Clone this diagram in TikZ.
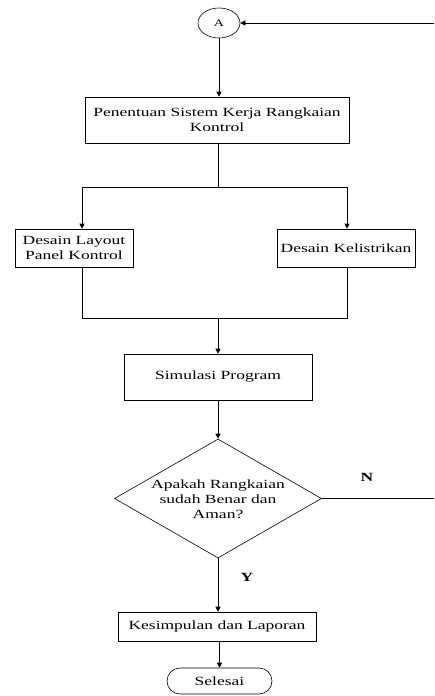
\documentclass[tikz,border=0pt]{standalone}
\usepackage{fontspec}
\setmainfont{Liberation Serif}[FakeStretch=1.4]
\usetikzlibrary{arrows.meta,shapes.geometric,calc}
\begin{document}
\begin{tikzpicture}[x=1pt,y=-1pt, line width=0.6pt,
  txt/.style={font=\fontsize{12.5}{15}\selectfont, align=center},
  box/.style={draw, rectangle, inner sep=0pt, txt},
  arr/.style={-{Triangle[length=5pt,width=5pt]}},
  lbl/.style={font=\fontsize{12.5}{15}\selectfont\bfseries}]
\useasboundingbox (0,0) rectangle (434,696);
% nodes
\node[draw, ellipse, minimum width=42pt, minimum height=30pt, inner sep=0pt,
      font=\fontsize{10}{12}\selectfont] (A) at (219,23) {A};
\node[box, minimum width=264pt, minimum height=46pt] (b1) at (217,120)
  {Penentuan Sistem Kerja Rangkaian\\Kontrol};
\node[box, minimum width=118pt, minimum height=38pt] (lb) at (74,248)
  {Desain Layout\\Panel Kontrol};
\node[box, minimum width=138pt, minimum height=38pt] (rb) at (346,248)
  {Desain Kelistrikan};
\node[box, minimum width=188pt, minimum height=46pt] (sim) at (218,377)
  {Simulasi Program};
\node[draw, diamond, minimum width=207pt, minimum height=119pt, inner sep=0pt] (dec) at (218,498.5) {};
\node[txt] (dect) at (218,499) {Apakah Rangkaian\\sudah Benar dan\\Aman?};
\node[box, minimum width=198pt, minimum height=29pt] (kes) at (217,626.5)
  {Kesimpulan dan Laporan};
\node[draw, rectangle, rounded corners=13pt, minimum width=105pt, minimum height=26pt,
      inner sep=0pt, txt] (sel) at (219.5,681) {Selesai};
\node[lbl] (N) at (367,477) {N};
\node[lbl] (Y) at (247,577) {Y};
% coordinates
\coordinate (aend) at (434,23);
\coordinate (nend) at (434,498.5);
\coordinate (j1) at (218,187);
\coordinate (jl) at (82,187);
\coordinate (jr) at (347,187);
\coordinate (m) at (218,318);
\coordinate (ml) at (82,318);
\coordinate (mr) at (347,318);
% connectors
\draw[arr] (aend) -- (A.east);
\draw[arr] (A.south) -- (A.south |- b1.north);
\draw (b1.south -| j1) -- (j1);
\draw[arr] (j1) -- (jl) -- (jl |- lb.north);
\draw[arr] (j1) -- (jr) -- (jr |- rb.north);
\draw (lb.south -| ml) -- (ml) -- (mr) -- (mr |- rb.south);
\draw[arr] (m) -- (sim.north -| m);
\draw[arr] (sim.south) -- (dec.north);
\draw (dec.east) -- (nend);
\draw[arr] (dec.south) -- (dec.south |- kes.north);
\draw[arr] (sel.north |- kes.south) -- (sel.north);
\end{tikzpicture}
\end{document}
